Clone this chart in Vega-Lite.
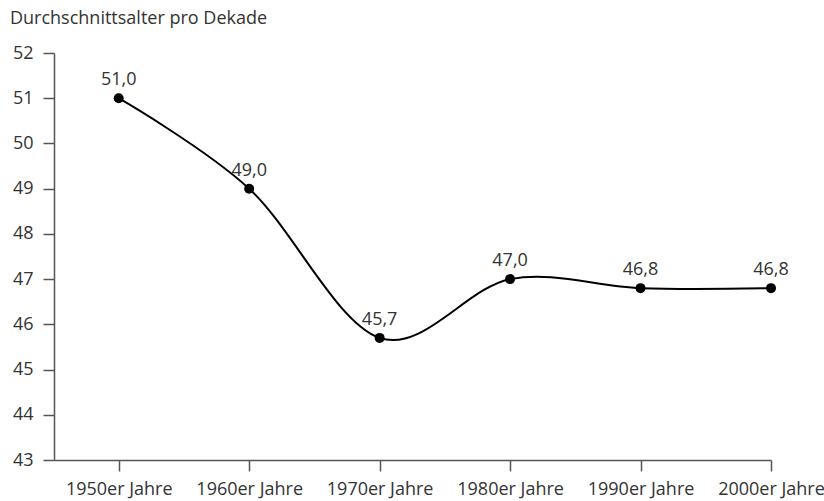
{
  "$schema": "https://vega.github.io/schema/vega-lite/v6.json",
  "width": 717,
  "height": 407,
  "autosize": "none",
  "padding": {"left": 54, "top": 53, "right": 53, "bottom": 41},
  "background": "white",
  "config": {
    "locale": {"number": {"decimal": ",", "thousands": ".", "grouping": [3], "currency": ["", " €"]}},
    "font": "Open Sans",
    "view": {"stroke": null},
    "axis": {"grid": false, "domainColor": "#555555", "tickColor": "#555555", "labelColor": "#333333", "labelFont": "Open Sans", "labelFontSize": 18, "tickSize": 11, "domainWidth": 1.5, "tickWidth": 1.5}
  },
  "title": {"text": "Durchschnittsalter pro Dekade", "anchor": "start", "frame": "group", "dx": -44, "offset": 2, "baseline": "alphabetic", "fontSize": 18, "fontWeight": "normal", "color": "#333333", "font": "Open Sans"},
  "data": {"values": [
    {"dekade": "1950er Jahre", "alter": 51.0},
    {"dekade": "1960er Jahre", "alter": 49.0},
    {"dekade": "1970er Jahre", "alter": 45.7},
    {"dekade": "1980er Jahre", "alter": 47.0},
    {"dekade": "1990er Jahre", "alter": 46.8},
    {"dekade": "2000er Jahre", "alter": 46.8}
  ]},
  "encoding": {
    "x": {"field": "dekade", "type": "ordinal", "sort": null, "scale": {"type": "point", "padding": 0.248, "align": 1},
      "axis": {"title": null, "labelAngle": 0, "labelPadding": 9}},
    "y": {"field": "alter", "type": "quantitative", "scale": {"domain": [43, 52], "nice": false, "zero": false},
      "axis": {"title": null, "values": [43,44,45,46,47,48,49,50,51,52], "labelPadding": 10, "format": "d"}}
  },
  "layer": [
    {"mark": {"type": "line", "interpolate": "cardinal", "color": "black", "strokeWidth": 2}},
    {"mark": {"type": "point", "filled": true, "color": "black", "size": 100, "opacity": 1}},
    {"mark": {"type": "text", "baseline": "alphabetic", "dy": -13, "fontSize": 18, "color": "#333333", "font": "Open Sans"},
      "encoding": {"text": {"field": "alter", "type": "quantitative", "format": ".1f"}}}
  ]
}
